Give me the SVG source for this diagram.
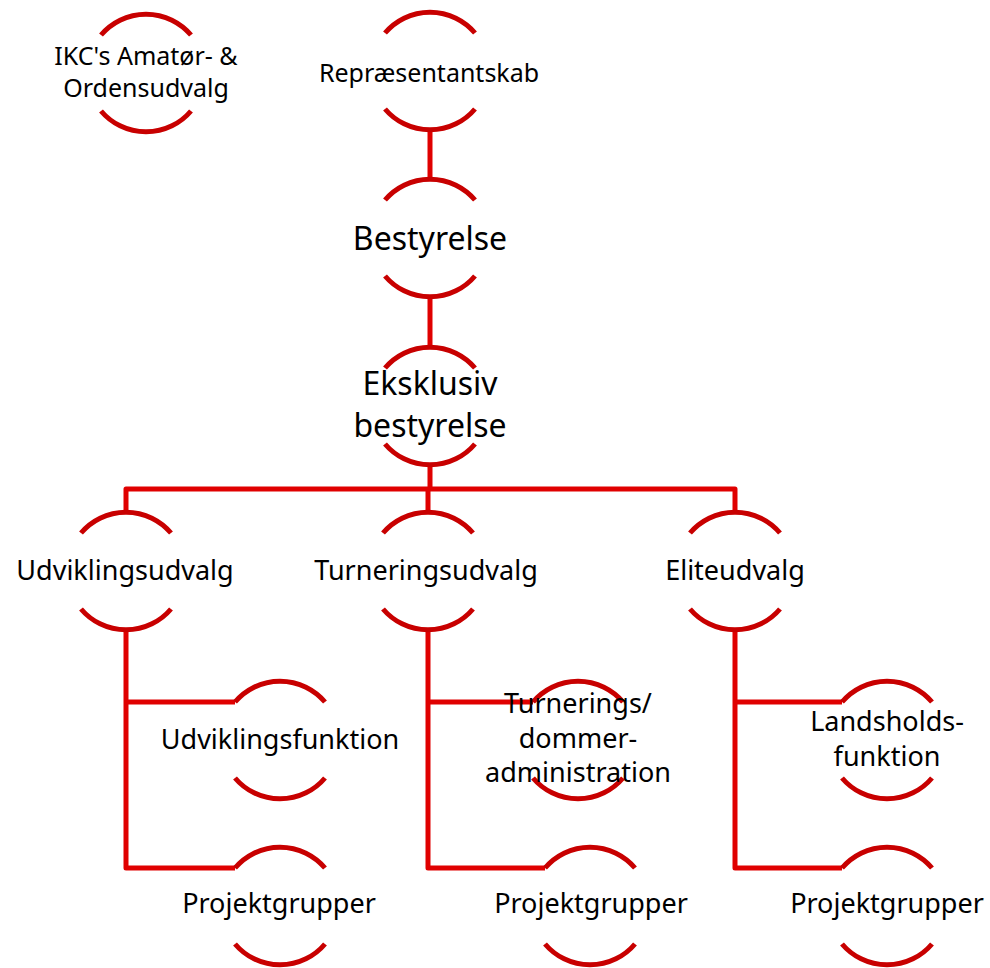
<svg xmlns="http://www.w3.org/2000/svg" width="990" height="968" viewBox="0 0 990 968">
<defs>
<style>
.arc{fill:none;stroke:#C80000;stroke-width:5}
.con{fill:none;stroke:#E00000;stroke-width:5;stroke-linejoin:round}
text{font-family:"Noto Sans","Open Sans",sans-serif;fill:#000;text-anchor:middle}
.s{font-size:25px}
.m{font-size:27px}
.l{font-size:32px}
</style>
<path id="ring" class="arc" d="M-45,-38 A59,59 0 0 1 45,-38 M-45,38 A59,59 0 0 0 45,38"/>
</defs>
<rect width="990" height="968" fill="#fff"/>
<g id="connectors">
<path class="con" d="M430,130 V180"/>
<path class="con" d="M430,297 V347"/>
<path class="con" d="M430,465 V489 M126,513 V489 H735 V513 M428,489 V513"/>
<path class="con" d="M126,630 V868 H235 M126,702 H235"/>
<path class="con" d="M428,630 V868 H545 M428,702 H533"/>
<path class="con" d="M735,630 V868 H842 M735,702 H842"/>
</g>
<g id="ikc" transform="translate(146,73)"><use href="#ring"/><text class="s" x="0" y="-8">IKC's Amatør- &amp;</text><text class="s" x="0" y="24">Ordensudvalg</text></g>
<g id="repraesentantskab" transform="translate(430,71)"><use href="#ring"/><text class="s" x="-1" y="11">Repræsentantskab</text></g>
<g id="bestyrelse" transform="translate(430,238)"><use href="#ring"/><text class="l" x="0" y="12">Bestyrelse</text></g>
<g id="eksklusiv" transform="translate(430,406)"><use href="#ring"/><text class="l" x="0" y="-11">Eksklusiv</text><text class="l" x="0" y="31">bestyrelse</text></g>
<g id="udviklingsudvalg" transform="translate(126,571)"><use href="#ring"/><text class="m" x="-1" y="9">Udviklingsudvalg</text></g>
<g id="turneringsudvalg" transform="translate(428,571)"><use href="#ring"/><text class="m" x="-2" y="9">Turneringsudvalg</text></g>
<g id="eliteudvalg" transform="translate(735,571)"><use href="#ring"/><text class="m" x="0" y="9">Eliteudvalg</text></g>
<g id="udviklingsfunktion" transform="translate(280,740)"><use href="#ring"/><text class="m" x="0" y="9">Udviklingsfunktion</text></g>
<g id="turneringsadmin" transform="translate(578,740)"><use href="#ring"/><text class="m" x="0" y="-27">Turnerings/</text><text class="m" x="0" y="8">dommer-</text><text class="m" x="0" y="42">administration</text></g>
<g id="landsholdsfunktion" transform="translate(887,740)"><use href="#ring"/><text class="m" x="0" y="-9">Landsholds-</text><text class="m" x="0" y="26">funktion</text></g>
<g id="projekt1" transform="translate(280,906)"><use href="#ring"/><text class="m" x="-1" y="7">Projektgrupper</text></g>
<g id="projekt2" transform="translate(590,906)"><use href="#ring"/><text class="m" x="1" y="7">Projektgrupper</text></g>
<g id="projekt3" transform="translate(887,906)"><use href="#ring"/><text class="m" x="0" y="7">Projektgrupper</text></g>
</svg>
